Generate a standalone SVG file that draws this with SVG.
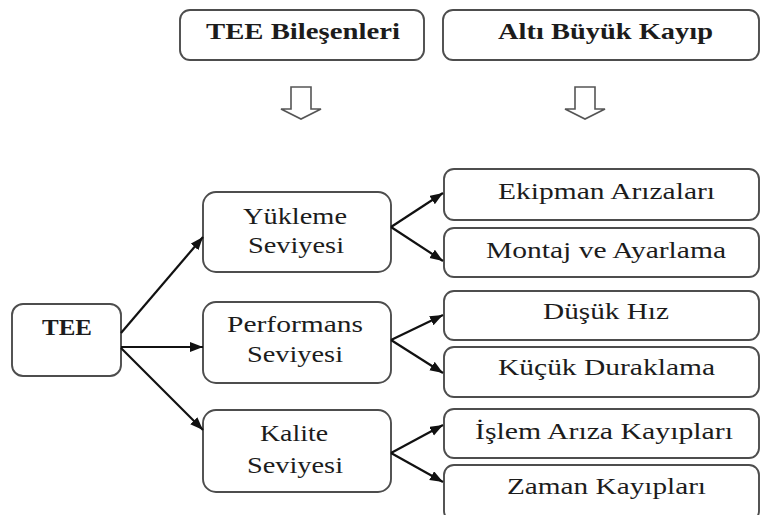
<svg xmlns="http://www.w3.org/2000/svg" width="761" height="515" viewBox="0 0 761 515">
<style>
.box{fill:#fff;stroke:#4d4d4d;stroke-width:1.9}
text{font-family:'Liberation Serif','Times New Roman',serif;font-size:24px;fill:#1c1c1c}
.b{font-weight:bold;font-size:23px}
.c{stroke:#111;stroke-width:2.2;fill:none;marker-end:url(#ah)}
.ha{fill:#fff;stroke:#555;stroke-width:1.6;stroke-linejoin:miter}
</style>
<defs>
<marker id="ah" markerUnits="userSpaceOnUse" markerWidth="14" markerHeight="12" refX="13" refY="5" orient="auto">
<path d="M0,0 L13,5 L0,10 z" fill="#111"/>
</marker>
</defs>
<rect width="761" height="515" fill="#fff"/>
<g id="tee-bilesenleri"><rect class="box" x="180" y="10" width="244" height="50" rx="10"/><text class="b" x="206" y="39" textLength="194" lengthAdjust="spacingAndGlyphs">TEE Bileşenleri</text></g>
<g id="alti-buyuk-kayip"><rect class="box" x="443" y="10" width="316" height="50" rx="10"/><text class="b" x="498" y="39" textLength="215" lengthAdjust="spacingAndGlyphs">Altı Büyük Kayıp</text></g>
<g id="down-arrow-1"><path class="ha" d="M291,87 H311 V109 H321 L301,119 L281,109 H291 Z"/></g>
<g id="down-arrow-2"><path class="ha" d="M575,87 H595 V109 H605 L585,119 L565,109 H575 Z"/></g>
<g id="tee"><rect class="box" x="12" y="304" width="109" height="72" rx="11"/><text class="b" x="42" y="335" textLength="50" lengthAdjust="spacingAndGlyphs">TEE</text></g>
<g id="yukleme"><rect class="box" x="203" y="192" width="188" height="80" rx="13"/><text x="243" y="224" textLength="104" lengthAdjust="spacingAndGlyphs">Yükleme</text><text x="248" y="253" textLength="96" lengthAdjust="spacingAndGlyphs">Seviyesi</text></g>
<g id="performans"><rect class="box" x="203" y="302" width="188" height="81" rx="13"/><text x="227" y="332" textLength="136" lengthAdjust="spacingAndGlyphs">Performans</text><text x="247" y="362" textLength="96" lengthAdjust="spacingAndGlyphs">Seviyesi</text></g>
<g id="kalite"><rect class="box" x="203" y="410" width="188" height="82" rx="13"/><text x="260" y="441" textLength="68" lengthAdjust="spacingAndGlyphs">Kalite</text><text x="247" y="473" textLength="96" lengthAdjust="spacingAndGlyphs">Seviyesi</text></g>
<g id="ekipman"><rect class="box" x="444" y="169" width="315" height="51" rx="10"/><text x="498" y="199" textLength="217" lengthAdjust="spacingAndGlyphs">Ekipman Arızaları</text></g>
<g id="montaj"><rect class="box" x="444" y="228" width="315" height="49" rx="10"/><text x="486" y="258" textLength="240" lengthAdjust="spacingAndGlyphs">Montaj ve Ayarlama</text></g>
<g id="dusuk-hiz"><rect class="box" x="444" y="291" width="315" height="49" rx="10"/><text x="543" y="319" textLength="126" lengthAdjust="spacingAndGlyphs">Düşük Hız</text></g>
<g id="kucuk-duraklama"><rect class="box" x="444" y="347" width="315" height="50" rx="10"/><text x="498" y="375" textLength="217" lengthAdjust="spacingAndGlyphs">Küçük Duraklama</text></g>
<g id="islem-ariza"><rect class="box" x="444" y="409" width="315" height="49" rx="10"/><text x="475" y="439" textLength="258" lengthAdjust="spacingAndGlyphs">İşlem Arıza Kayıpları</text></g>
<g id="zaman"><rect class="box" x="444" y="465" width="315" height="56" rx="10"/><text x="507" y="494" textLength="199" lengthAdjust="spacingAndGlyphs">Zaman Kayıpları</text></g>
<g id="connectors">
<path class="c" d="M121,333 L203,237"/>
<path class="c" d="M121,347 L203,347"/>
<path class="c" d="M121,348 L203,430"/>
<path class="c" d="M391,227 L443,193"/>
<path class="c" d="M391,227 L443,261"/>
<path class="c" d="M391,340 L443,315"/>
<path class="c" d="M391,340 L443,373"/>
<path class="c" d="M391,453 L443,425"/>
<path class="c" d="M391,453 L443,482"/>
</g>
</svg>
